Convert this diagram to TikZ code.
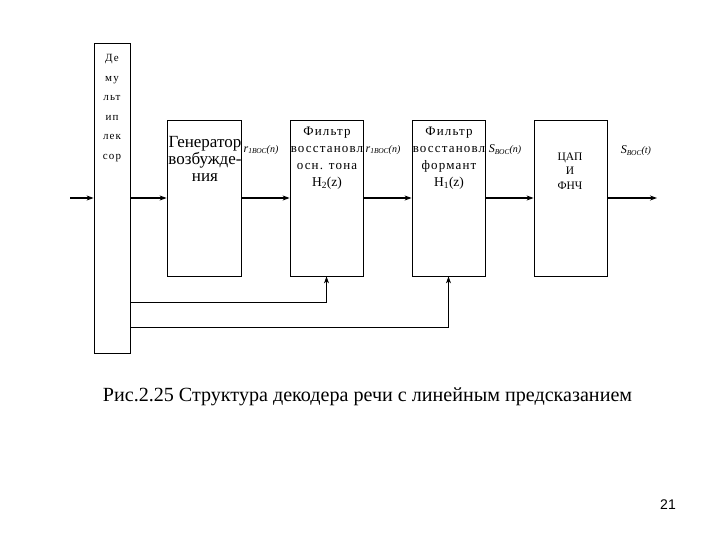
\documentclass[tikz,border=0pt]{standalone}
\usepackage{fontspec}
\setmainfont{Liberation Serif}
\newfontfamily\spcfnt[LetterSpace=9]{Liberation Serif}
\newfontfamily\dmxfnt[LetterSpace=10]{Liberation Serif}
\newfontfamily\sansfnt{Liberation Sans}
\usetikzlibrary{arrows.meta}
\begin{document}
\begin{tikzpicture}[x=1pt,y=-1pt,
  blk/.style={draw,line width=0.8pt,minimum width=73pt,minimum height=156pt,inner sep=0pt},
  arr/.style={line width=1.3pt,-{Stealth[length=7pt,width=5pt]}},
  txt/.style={inner sep=0pt,align=center},
  lbl/.style={inner sep=0pt}]
\useasboundingbox (0,0) rectangle (720,540);
\fill[white] (0,0) rectangle (720,540);
% blocks
\node[blk,minimum width=36pt,minimum height=310pt] (dmx) at (112,198) {};
\node[blk,minimum width=74pt] (gen) at (204,198) {};
\node[blk] (f1) at (326.5,198) {};
\node[blk] (f2) at (448.5,198) {};
\node[blk] (dac) at (570.5,198) {};
% texts
\node[txt,font={\dmxfnt\fontsize{11}{19.6}\selectfont}] (tdmx) at (112,108) {Де\\му\\льт\\ип\\лек\\сор};
\node[txt,font={\fontsize{17}{17}\selectfont}] (tgen) at (205,159) {Генератор\\возбужде-\\ния};
\node[txt,font={\spcfnt\fontsize{13}{17}\selectfont}] (tf1) at (327,158) {Фильтр\\восстановл\\осн. тона\\{\rmfamily\fontsize{13.5}{17}\selectfont H\textsubscript{2}(z)}};
\node[txt,font={\spcfnt\fontsize{13}{17}\selectfont}] (tf2) at (449,158) {Фильтр\\восстановл\\формант\\{\rmfamily\fontsize{13.5}{17}\selectfont H\textsubscript{1}(z)}};
\node[txt,font={\fontsize{11.5}{14.5}\selectfont}] (tdac) at (570,171) {ЦАП\\И\\ФНЧ};
% signal labels
\node[lbl] (l1) at (261,150) {\itshape{\fontsize{12}{12}\selectfont r}\raisebox{-1.5pt}{\fontsize{7.5}{7.5}\selectfont 1ВОС}{\fontsize{10}{10}\selectfont (n)}};
\node[lbl] (l2) at (383,150) {\itshape{\fontsize{12}{12}\selectfont r}\raisebox{-1.5pt}{\fontsize{7.5}{7.5}\selectfont 1ВОС}{\fontsize{10}{10}\selectfont (n)}};
\node[lbl] (l3) at (505,150) {\itshape{\fontsize{12}{12}\selectfont S}\raisebox{-1.5pt}{\fontsize{7.5}{7.5}\selectfont ВОС}{\fontsize{10}{10}\selectfont (n)}};
\node[lbl] (l4) at (636,151) {\itshape{\fontsize{12}{12}\selectfont S}\raisebox{-1.5pt}{\fontsize{7.5}{7.5}\selectfont ВОС}{\fontsize{10}{10}\selectfont (t)}};
% connectors
\coordinate (in) at (70,198);
\coordinate (out) at (657,198);
\draw[arr] (in) -- (dmx.west |- in);
\draw[arr] (dmx.east |- in) -- (gen.west |- in);
\draw[arr] (gen.east |- in) -- (f1.west |- in);
\draw[arr] (f1.east |- in) -- (f2.west |- in);
\draw[arr] (f2.east |- in) -- (dac.west |- in);
\draw[arr] (dac.east |- in) -- (out);
\coordinate (fb1) at (130,302);
\coordinate (fb2) at (130,327);
\draw[arr,line width=1pt] (dmx.east |- fb1) -| (f1.south);
\draw[arr,line width=1pt] (dmx.east |- fb2) -| (f2.south);
% caption
\node[lbl,font={\fontsize{20.1}{22}\selectfont}] (cap) at (367.5,397) {Рис.2.25 Структура декодера речи с линейным предсказанием};
\node[lbl,font={\sansfnt\fontsize{14}{14}\selectfont}] (pg) at (668,505) {21};
\end{tikzpicture}
\end{document}
